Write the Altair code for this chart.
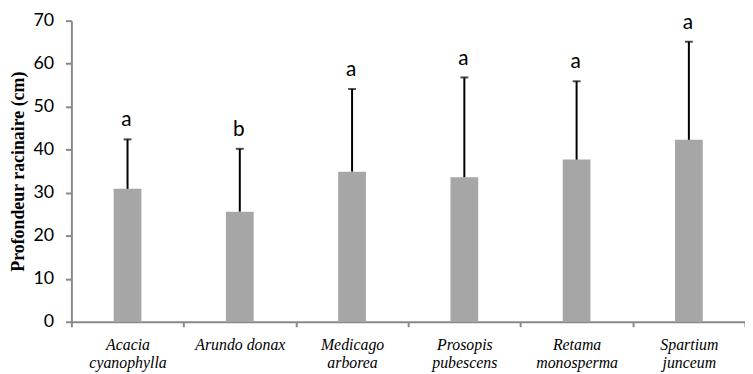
import altair as alt
import pandas as pd

species = ["Acacia cyanophylla", "Arundo donax", "Medicago arborea",
           "Prosopis pubescens", "Retama monosperma", "Spartium junceum"]
means = [30.9, 25.6, 34.9, 33.6, 37.7, 42.3]
upper = [42.4, 40.2, 54.1, 56.8, 55.9, 65.1]
letters = ["a", "b", "a", "a", "a", "a"]
y_ticks = [0, 10, 20, 30, 40, 50, 60, 70]

df = pd.DataFrame({"species": species, "mean": means, "upper": upper, "letter": letters})

AXIS_GRAY = "#898989"
SERIF = "Liberation Serif, Times New Roman, serif"

x_enc = alt.X("species:N", sort=species, title=None,
              scale=alt.Scale(paddingInner=0, paddingOuter=0),
              axis=alt.Axis(
                  labelExpr="!datum.value ? '' : (datum.value == 'Arundo donax' ? datum.value : split(datum.value, ' '))",
                  tickBand="extent"))

y_scale = alt.Scale(domain=[0, 70], nice=False)
y_enc = alt.Y("mean:Q", scale=y_scale, title="Profondeur racinaire (cm)",
              axis=alt.Axis(values=y_ticks, titleX=-53, titleY=152))

bars = alt.Chart(df).mark_bar(size=28, color="#a6a6a6").encode(x=x_enc, y=y_enc)

err = alt.Chart(df).mark_rule(color="#000000", strokeWidth=2).encode(
    x=x_enc, y=y_enc, y2="upper:Q",
)

cap = alt.Chart(df).mark_tick(color="#000000", size=8, thickness=2).encode(
    x=x_enc, y=alt.Y("upper:Q", scale=y_scale),
)

txt = alt.Chart(df).mark_text(font="Lato", fontSize=21, color="#000000",
                              baseline="alphabetic", dy=-13, dx=-1).encode(
    x=x_enc, y=alt.Y("upper:Q", scale=y_scale), text="letter:N",
)

chart = alt.layer(bars, err, cap, txt).properties(
    width=680, height=304,
    autosize=alt.AutoSizeParams(type="none"),
    padding={"left": 64, "top": 11, "right": 0, "bottom": 54},
).configure_view(
    stroke=None
).configure_axisX(
    labelAngle=0, labelFont=SERIF, labelFontStyle="italic",
    labelFontSize=16, labelColor="#000000", labelPadding=10, labelLineHeight=18,
    tickSize=5, tickWidth=2, tickColor=AXIS_GRAY,
    domainColor=AXIS_GRAY, domainWidth=2, grid=False,
).configure_axisY(
    grid=False, tickSize=6, tickWidth=2, tickColor=AXIS_GRAY,
    domainColor=AXIS_GRAY, domainWidth=2,
    labelFont="Lato", labelFontSize=18, labelColor="#000000", labelPadding=12,
    titleFont=SERIF, titleFontWeight="bold", titleFontSize=18,
    titleColor="#000000", titleAngle=-90, titleAlign="center", titleBaseline="middle",
)

chart.save("out.html", embed_options={"renderer": "svg", "actions": False})
